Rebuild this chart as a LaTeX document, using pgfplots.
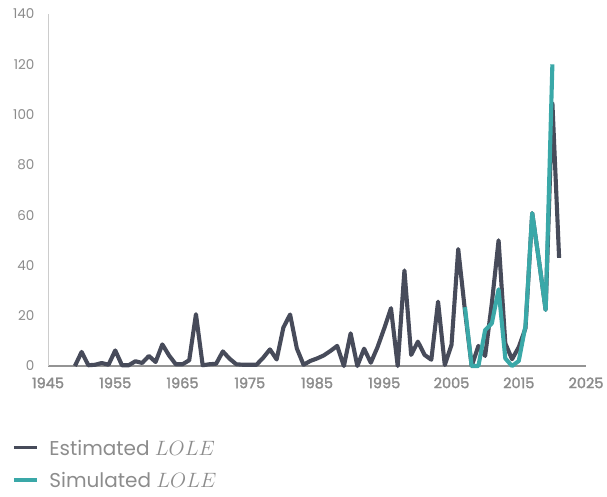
\documentclass[border=0pt]{standalone}
\usepackage{fontspec}
\setmainfont{Poppins}
\newfontfamily\popbold{Poppins}[FakeBold=2]
\usepackage{pgfplots}
\pgfplotsset{compat=1.18}
\definecolor{darkl}{HTML}{474B5A}
\definecolor{teall}{HTML}{3AA8A8}
\definecolor{txtg}{HTML}{8C8C8C}
\begin{document}
\begin{tikzpicture}
\begin{axis}[
  scale only axis, width=538pt, height=352pt,
  xmin=1945, xmax=2025, ymin=0, ymax=140,
  xtick={1945,1955,...,2025}, ytick={0,20,...,140},
  axis x line=bottom, axis y line=left,
  x axis line style={-, draw=black!42, line width=1.3pt},
  y axis line style={-, draw=black!20, line width=0.8pt},
  major tick length=0pt,
  xticklabel style={font=\fontsize{14.5}{16}\popbold, text=txtg, yshift=-8pt},
  yticklabel style={font=\fontsize{13.5}{15}\selectfont, text=txtg, xshift=-10pt},
  /pgf/number format/assume math mode=true,
  x tick label style={/pgf/number format/1000 sep={}},
  clip=false,
  legend style={at={(rel axis cs:-0.067,-0.21)}, anchor=north west, draw=none, fill=none,
    font=\fontsize{20}{23}\selectfont, text=txtg, row sep=17pt, column sep=11pt, inner sep=0pt,
    nodes={inner sep=0pt, text depth=0pt}},
  legend cell align=left,
  legend image code/.code={\draw[line width=3.2pt] (0pt,0pt) -- (23pt,0pt);},
]
\addplot[darkl, line width=4.1pt, line join=round] table[x=year, y=v] {
year v
1949 0
1950 5.6
1951 0.3
1952 0.5
1953 1.2
1954 0.5
1955 6.2
1956 0.3
1957 0.3
1958 1.9
1959 1.2
1960 4
1961 1.6
1962 8.6
1963 4.2
1964 0.7
1965 0.7
1966 2.3
1967 20.6
1968 0.3
1969 0.7
1970 0.9
1971 5.8
1972 2.9
1973 0.7
1974 0.5
1975 0.5
1976 0.5
1977 3.3
1978 6.6
1979 2.6
1980 15.3
1981 20.5
1982 7
1983 0.5
1984 2
1985 3
1986 4.2
1987 6
1988 8
1989 0
1990 13
1991 0
1992 6.9
1993 1.3
1994 7.5
1995 15
1996 23
1997 0
1998 38
1999 4.4
2000 9.7
2001 4.4
2002 2.5
2003 25.6
2004 0.4
2005 8.4
2006 46.5
2007 22
2008 0
2009 8
2010 4
2011 25
2012 50
2013 9
2014 2.7
2015 7.5
2016 15
2017 60.8
2018 42
2019 22.3
2020 104.6
2021 43
};
\addlegendentry{Estimated $LOLE$}
\addplot[teall, line width=4.1pt, line join=round] table[x=year, y=v] {
year v
2007 23.4
2008 0
2009 0
2010 14.3
2011 17
2012 30.5
2013 3
2014 0
2015 2
2016 16
2017 60.8
2018 42
2019 22.3
2020 120
};
\addlegendentry{Simulated $LOLE$}
\path (rel axis cs:0,0) coordinate (O) (rel axis cs:1,1) coordinate (T);
\end{axis}
\pgfresetboundingbox
\path ([shift={(-48pt,-130pt)}]O) rectangle ([shift={(21pt,14pt)}]T);
\end{tikzpicture}
\end{document}
